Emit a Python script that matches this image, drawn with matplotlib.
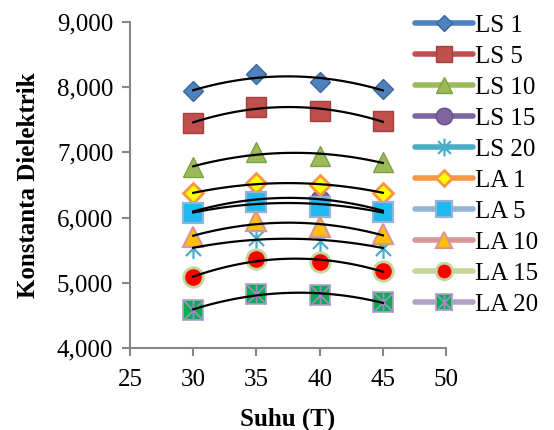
import numpy as np
import matplotlib
matplotlib.use("Agg")
import matplotlib.pyplot as plt
from matplotlib.lines import Line2D
from matplotlib.path import Path
from matplotlib.legend_handler import HandlerTuple

plt.rcParams['font.family'] = ['Liberation Serif', 'DejaVu Serif']

suhu = [30, 35, 40, 45]
labels = ["LS 1", "LS 5", "LS 10", "LS 15", "LS 20",
          "LA 1", "LA 5", "LA 10", "LA 15", "LA 20"]
ls1 = [7935, 8200, 8085, 7970]
ls5 = [7450, 7700, 7640, 7480]
ls10 = [6775, 7000, 6945, 6850]
ls15 = [6090, 6290, 6270, 6110]
ls20 = [5530, 5680, 5640, 5540]
la1 = [6375, 6525, 6500, 6385]
la5 = [6065, 6245, 6170, 6090]
la10 = [5705, 5950, 5850, 5745]
la15 = [5085, 5360, 5325, 5180]
la20 = [4585, 4830, 4815, 4700]
series = [ls1, ls5, ls10, ls15, ls20, la1, la5, la10, la15, la20]

star = Path([(0, -1), (0, 1), (-0.72, -0.72), (0.72, 0.72), (-0.72, 0.72), (0.72, -0.72)],
            [Path.MOVETO, Path.LINETO] * 3)
boxstar = Path([(0, -1), (0, 1), (-1, -1), (1, 1), (-1, 1), (1, -1)],
               [Path.MOVETO, Path.LINETO] * 3)

# (line colour, marker, size, face, edge, edge width)
styles = [
    ("#4F81BD", "D", 10, "#4F81BD", "#3A6699", 1.0),
    ("#C0504D", "s", 14, "#C0504D", "#A3403D", 1.0),
    ("#9BBB59", "^", 14, "#9BBB59", "#7F9F45", 1.0),
    ("#8064A2", "o", 14, "#8064A2", "#6A5088", 1.0),
    ("#4BACC6", star, 15, "none", "#4BACC6", 1.6),
    ("#F79646", "D", 10, "#FFFF00", "#F79646", 2.0),
    ("#95B3D7", "s", 14, "#1FB8F0", "#95B3D7", 1.6),
    ("#D99694", "^", 14, "#FFC000", "#D99694", 1.6),
    ("#C3D69B", "o", 14, "#FF0000", "#C3D69B", 2.0),
    ("#B3A2C7", "s", 14, "#00B050", "#B3A2C7", 1.2),
]

fig = plt.figure(figsize=(5.54, 4.30), dpi=100)
ax = fig.add_axes([0.2347, 0.1907, 0.5705, 0.7581])

xs = np.linspace(30, 45, 100)
handles = []
for vals, (lc, mk, ms, fc, ec, mew), lab in zip(series, styles, labels):
    ax.plot(suhu, vals, linestyle="none", marker=mk, ms=ms, mfc=fc, mec=ec, mew=mew, zorder=3)
    lms = ms * 0.85
    h = Line2D([], [], color=lc, lw=4, solid_capstyle="round", marker=mk, ms=lms,
               mfc=fc, mec=ec, mew=mew)
    if lab == "LA 20":
        ax.plot(suhu, vals, linestyle="none", marker=boxstar, ms=ms, mfc="none",
                mec="#A58BC8", mew=1.3, zorder=3)
        h2 = Line2D([], [], linestyle="none", marker=boxstar, ms=lms, mfc="none",
                    mec="#A58BC8", mew=1.3)
        h = (h, h2)
    handles.append(h)

for vals in series:
    c = np.polyfit(suhu, vals, 2)
    ax.plot(xs, np.polyval(c, xs), color="black", lw=1.6, zorder=4)

ax.set_xlim(25, 50)
ax.set_ylim(4000, 9000)
ax.set_xticks([25, 30, 35, 40, 45, 50])
ax.set_yticks([4000, 5000, 6000, 7000, 8000, 9000])
ax.set_yticklabels(["4,000", "5,000", "6,000", "7,000", "8,000", "9,000"])
for s in ["top", "right"]:
    ax.spines[s].set_visible(False)
for s in ["left", "bottom"]:
    ax.spines[s].set_color("#868686")
    ax.spines[s].set_linewidth(1.5)
ax.tick_params(axis="both", direction="out", length=6, width=1.5, color="#868686",
               labelsize=18)
ax.tick_params(axis="y", pad=6)
ax.tick_params(axis="x", pad=9)
ax.set_xlabel("Suhu (T)", fontsize=18, fontweight="bold", labelpad=12)
ax.set_ylabel("Konstanta Dielektrik", fontsize=18, fontweight="bold", labelpad=12)

fig.legend(handles, labels, loc="upper left", bbox_to_anchor=(0.745, 0.972),
           frameon=False, fontsize=18, handlelength=2.3, handletextpad=0.1,
           labelspacing=0.34, borderpad=0.1, borderaxespad=0,
           handler_map={tuple: HandlerTuple(ndivide=1)})

fig.savefig("out.png", dpi=100)
